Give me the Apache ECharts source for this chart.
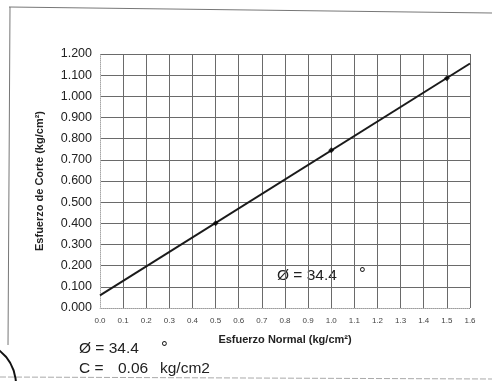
<!DOCTYPE html>
<html>
<head>
<meta charset="utf-8">
<script src="https://cdn.jsdelivr.net/npm/echarts@6/dist/echarts.min.js"></script>
<style>
html,body{margin:0;padding:0;background:#fff;}
#c{width:492px;height:381px;}
</style>
</head>
<body>
<div id="c"></div>
<script>
// Data
var normalStress = [0.5, 1.0, 1.5];          // kg/cm2
var shearStress  = [0.40, 0.745, 1.085];     // kg/cm2
var envelopeX    = [0.0, 1.6];
var envelopeY    = [0.06, 1.155];
var xTickLabels  = ['0.0','0.1','0.2','0.3','0.4','0.5','0.6','0.7','0.8','0.9','1.0','1.1','1.2','1.3','1.4','1.5','1.6'];
var yTickLabels  = ['0.000','0.100','0.200','0.300','0.400','0.500','0.600','0.700','0.800','0.900','1.000','1.100','1.200'];
var phiText = 'Ø = 34.4';
var cValue = '0.06';

var FONT = '"Liberation Sans", Arial, sans-serif';
var chart = echarts.init(document.getElementById('c'), null, {renderer: 'canvas'});

var points = normalStress.map(function (x, i) { return [x, shearStress[i]]; });
var envelope = envelopeX.map(function (x, i) { return [x, envelopeY[i]]; });

function idxLabel(arr, step) {
  return function (v) { var i = Math.round(v / step); return arr[i] !== undefined ? arr[i] : ''; };
}

chart.setOption({
  animation: false,
  backgroundColor: '#ffffff',
  grid: {left: 100, right: 22, top: 54, bottom: 73, containLabel: false},
  xAxis: {
    type: 'value', min: 0, max: 1.6, interval: 0.1,
    name: 'Esfuerzo Normal (kg/cm²)',
    nameLocation: 'middle', nameGap: 26,
    nameTextStyle: {fontFamily: FONT, fontSize: 11, fontWeight: 'bold', color: '#222'},
    axisLine: {show: true, lineStyle: {color: '#bbb', type: 'dotted', width: 1}},
    axisTick: {show: false},
    axisLabel: {fontFamily: FONT, fontSize: 8, color: '#444', margin: 9, formatter: idxLabel(xTickLabels, 0.1)},
    splitLine: {show: true, lineStyle: {color: '#6a6a6a', width: 1}}
  },
  yAxis: {
    type: 'value', min: 0, max: 1.2, interval: 0.1,
    name: 'Esfuerzo de Corte (kg/cm²)',
    nameLocation: 'middle', nameGap: 55, nameRotate: 90,
    nameTextStyle: {fontFamily: FONT, fontSize: 11, fontWeight: 'bold', color: '#222'},
    axisLine: {show: true, lineStyle: {color: '#ccc', type: 'dotted', width: 1}},
    axisTick: {show: false},
    axisLabel: {fontFamily: FONT, fontSize: 12.5, color: '#222', margin: 8, formatter: idxLabel(yTickLabels, 0.1)},
    splitLine: {show: true, lineStyle: {color: '#6a6a6a', width: 1}}
  },
  series: [
    {
      type: 'line', data: envelope, showSymbol: false, symbol: 'none',
      lineStyle: {color: '#1a1a1a', width: 2}, z: 3, silent: true
    },
    {
      type: 'scatter', data: points, symbol: 'diamond', symbolSize: 6,
      itemStyle: {color: '#000'}, z: 4
    }
  ],
  graphic: [
    // scanned-page frame lines
    {type: 'line', shape: {x1: 9, y1: 7, x2: 492, y2: 13}, style: {stroke: '#777', lineWidth: 1}},
    {type: 'line', shape: {x1: 10, y1: 7, x2: 8, y2: 345}, style: {stroke: '#777', lineWidth: 1}},
    {type: 'line', shape: {x1: 0, y1: 377, x2: 492, y2: 379}, style: {stroke: '#aaa', lineWidth: 1, lineDash: [6, 2]}},
    {type: 'arc', shape: {cx: -28, cy: 385, r: 44, startAngle: -Math.PI * 0.55, endAngle: 0.1}, style: {stroke: '#111', lineWidth: 2, fill: null}},
    // annotation inside plot
    {type: 'text', x: 277, y: 276, style: {text: phiText, fontFamily: FONT, fontSize: 15.5, fill: '#222', textVerticalAlign: 'middle'}},
    {type: 'text', x: 359, y: 274, style: {text: '°', fontFamily: FONT, fontSize: 17, fill: '#222', textVerticalAlign: 'middle'}},
    // summary below chart
    {type: 'text', x: 79, y: 349, style: {text: phiText, fontFamily: FONT, fontSize: 15.5, fill: '#222', textVerticalAlign: 'middle'}},
    {type: 'text', x: 161, y: 348, style: {text: '°', fontFamily: FONT, fontSize: 17, fill: '#222', textVerticalAlign: 'middle'}},
    {type: 'text', x: 79, y: 369, style: {text: 'C =', fontFamily: FONT, fontSize: 15.5, fill: '#222', textVerticalAlign: 'middle'}},
    {type: 'text', x: 118, y: 369, style: {text: cValue, fontFamily: FONT, fontSize: 15.5, fill: '#222', textVerticalAlign: 'middle'}},
    {type: 'text', x: 160, y: 369, style: {text: 'kg/cm2', fontFamily: FONT, fontSize: 15.5, fill: '#222', textVerticalAlign: 'middle'}}
  ]
});
</script>
</body>
</html>
